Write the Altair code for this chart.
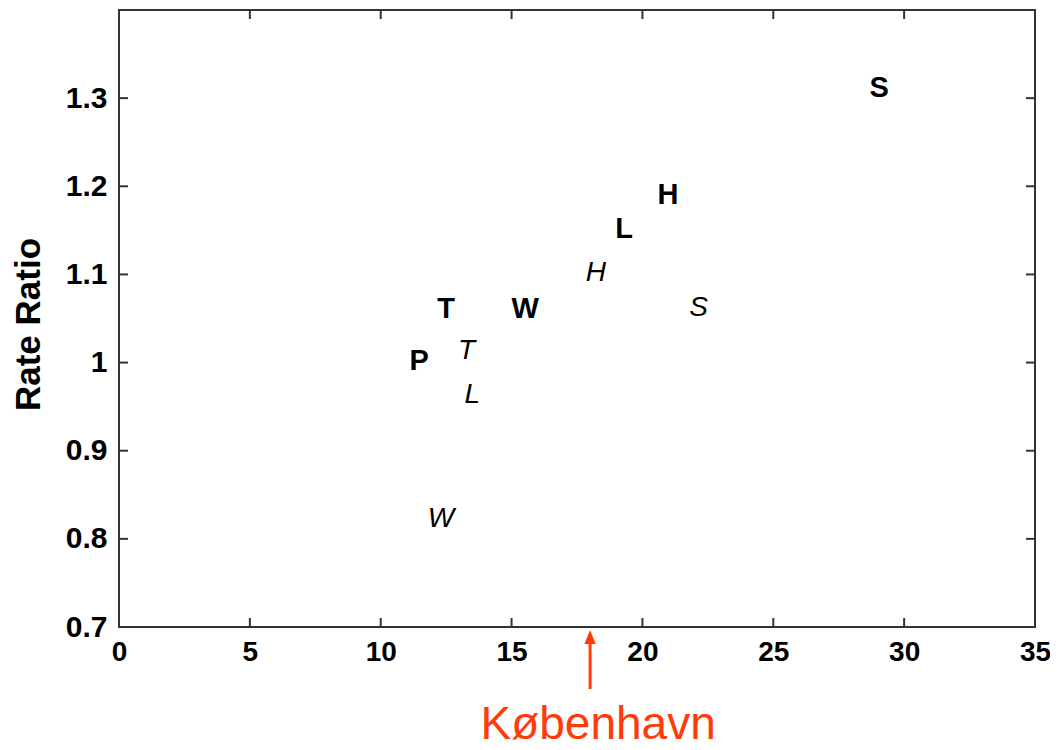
import altair as alt
import pandas as pd

# Bold (upright) letters
bold_labels = ["S", "H", "L", "T", "W", "P"]
bold_x = [29.05, 20.98, 19.3, 12.5, 15.52, 11.47]
bold_y = [1.311, 1.190, 1.151, 1.061, 1.061, 1.002]

# Italic letters
ital_labels = ["H", "S", "T", "L", "W"]
ital_x = [18.22, 22.15, 13.28, 13.5, 12.30]
ital_y = [1.102, 1.062, 1.013, 0.963, 0.823]

x_ticks = [0, 5, 10, 15, 20, 25, 30, 35]
y_ticks = [0.7, 0.8, 0.9, 1.0, 1.1, 1.2, 1.3]

marker_x = [18]
marker_label = ["København"]

W, H = 916, 617
FONT = "Liberation Sans"
FRAME = "#333333"
RED = "#FF3B0A"

bold_df = pd.DataFrame({"label": bold_labels, "x": bold_x, "y": bold_y})
ital_df = pd.DataFrame({"label": ital_labels, "x": ital_x, "y": ital_y})
xt_df = pd.DataFrame({"x": x_ticks})
yt_df = pd.DataFrame({"y": y_ticks})
mk_df = pd.DataFrame({"x": marker_x, "label": marker_label})

xscale = alt.Scale(domain=[0, 35], nice=False, zero=False)
yscale = alt.Scale(domain=[0.7, 1.4], nice=False, zero=False)

xaxis = alt.Axis(values=x_ticks, ticks=False, domain=False, grid=False,
                 labelFont=FONT, labelFontWeight="bold", labelFontSize=28,
                 labelColor="black", labelPadding=11, title=None,
                 labelFlush=False, labelOverlap=False)
yaxis = alt.Axis(values=y_ticks, ticks=False, domain=False, grid=False,
                 labelFont=FONT, labelFontWeight="bold", labelFontSize=30,
                 labelColor="black", labelPadding=12, format=".1~f",
                 title="Rate Ratio", titleFont=FONT, titleFontWeight="bold",
                 titleFontSize=35, titleColor="black", titleAngle=-90,
                 titleX=-80, titleY=314, titleAlign="center",
                 titleBaseline="alphabetic", labelOverlap=False)

bold = alt.Chart(bold_df).mark_text(
    font=FONT, fontSize=29, fontWeight="bold", color="black",
    align="center", baseline="middle"
).encode(
    x=alt.X("x:Q", scale=xscale, axis=xaxis),
    y=alt.Y("y:Q", scale=yscale, axis=yaxis),
    text="label:N",
)

ital = alt.Chart(ital_df).mark_text(
    font=FONT, fontSize=28, fontStyle="italic", fontWeight="normal",
    color="black", align="center", baseline="middle"
).encode(
    x=alt.X("x:Q", scale=xscale),
    y=alt.Y("y:Q", scale=yscale),
    text="label:N",
)

tick_style = dict(color=FRAME, strokeWidth=2)
xt_bottom = alt.Chart(xt_df).mark_rule(**tick_style).encode(
    x=alt.X("x:Q", scale=xscale), y=alt.value(H), y2=alt.value(H - 9))
xt_top = alt.Chart(xt_df).mark_rule(**tick_style).encode(
    x=alt.X("x:Q", scale=xscale), y=alt.value(0), y2=alt.value(9))
yt_left = alt.Chart(yt_df).mark_rule(**tick_style).encode(
    y=alt.Y("y:Q", scale=yscale), x=alt.value(0), x2=alt.value(9))
yt_right = alt.Chart(yt_df).mark_rule(**tick_style).encode(
    y=alt.Y("y:Q", scale=yscale), x=alt.value(W), x2=alt.value(W - 9))

arrow_shaft = alt.Chart(mk_df).mark_rule(color=RED, strokeWidth=3).encode(
    x=alt.X("x:Q", scale=xscale), y=alt.value(H + 14), y2=alt.value(H + 62))
arrow_head = alt.Chart(mk_df).mark_point(
    shape="M0,-1L0.8,1L-0.8,1Z", filled=True, color=RED, opacity=1,
    size=200, strokeWidth=0
).encode(x=alt.X("x:Q", scale=xscale), y=alt.value(H + 10))
arrow_text = alt.Chart(mk_df).mark_text(
    font=FONT, fontSize=46, color=RED, align="center", baseline="alphabetic",
    dx=8
).encode(x=alt.X("x:Q", scale=xscale), y=alt.value(H + 112), text="label:N")

chart = alt.layer(
    xt_bottom, xt_top, yt_left, yt_right, bold, ital,
    arrow_shaft, arrow_head, arrow_text
).properties(
    width=W, height=H,
    autosize=alt.AutoSizeParams(type="none"),
    padding={"left": 111, "top": 2, "right": 15, "bottom": 119},
    background="white",
).configure_view(
    stroke=FRAME, strokeWidth=2
)

chart.save("out.html", embed_options={"renderer": "svg", "actions": False})
